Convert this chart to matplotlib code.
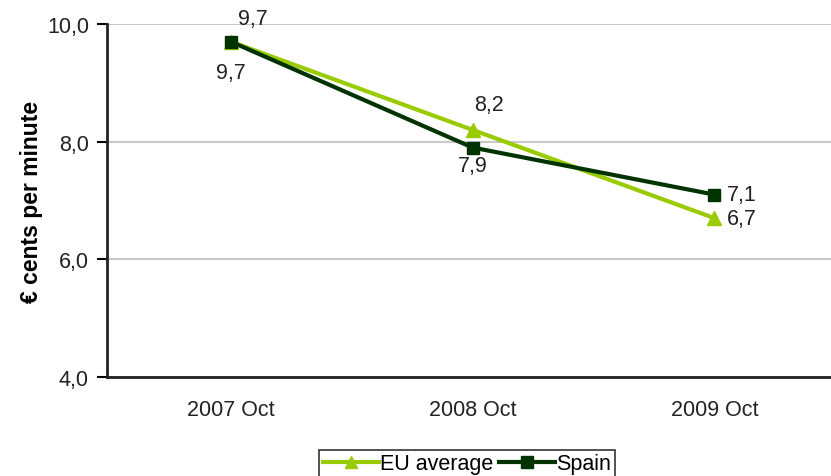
import matplotlib
matplotlib.use("Agg")
import matplotlib.pyplot as plt
from matplotlib.ticker import FuncFormatter

plt.rcParams['font.family'] = ['Liberation Sans', 'DejaVu Sans']

# Mobile termination rates, euro cents per minute
periods = ['2007 Oct', '2008 Oct', '2009 Oct']
eu_average = [9.7, 8.2, 6.7]
spain = [9.7, 7.9, 7.1]

eu_color = '#99CC00'
spain_color = '#003300'

fig = plt.figure(figsize=(8.31, 4.77), dpi=100)
# axes run a little past the right edge of the figure
ax = fig.add_axes([107 / 831, 1 - 378 / 477, 738 / 831, 353 / 477])

x = list(range(len(periods)))
ax.plot(x, eu_average, color=eu_color, lw=3, marker='^', ms=10,
        label='EU average', zorder=3)
ax.plot(x, spain, color=spain_color, lw=3, marker='s', ms=9,
        label='Spain', zorder=4)

fmt = lambda v: f'{v:.1f}'.replace('.', ',')

# data labels: (dx, dy) in points and horizontal alignment
eu_offsets = [(5.5, 16.5, 'left'), (12, 18, 'center'), (9, 0, 'left')]
sp_offsets = [(0, -22, 'center'), (0, -13, 'center'), (9, 0, 'left')]
for vals, offs in [(eu_average, eu_offsets), (spain, sp_offsets)]:
    for i, v in enumerate(vals):
        dx, dy, ha = offs[i]
        ax.annotate(fmt(v), (x[i], v), xytext=(dx, dy), textcoords='offset points',
                    ha=ha, va='center', fontsize=15.5, color='#222222')

ax.set_xlim(-0.512, 2.54)
ax.set_ylim(4, 10)
ax.set_yticks([4, 6, 8, 10])
ax.yaxis.set_major_formatter(FuncFormatter(lambda v, p: fmt(v)))
ax.set_xticks(x)
ax.set_xticklabels(periods)
ax.tick_params(axis='x', length=0, pad=16, labelsize=15.5, labelcolor='#222222')
ax.tick_params(axis='y', length=7, width=1.5, pad=6, labelsize=15.5,
               labelcolor='#222222')

ax.grid(axis='y', color='#c8c8c8', lw=1.5)
ax.set_axisbelow(True)
for side in ['top', 'right']:
    ax.spines[side].set_visible(False)
for side in ['left', 'bottom']:
    ax.spines[side].set_linewidth(2)
    ax.spines[side].set_color('#222222')

ax.set_ylabel('€ cents per minute', fontsize=16.5, fontweight='bold')
ax.yaxis.set_label_coords(-64 / 738, 0.5)

leg = fig.legend(loc='upper center', bbox_to_anchor=(467 / 831, 1 - 451 / 477),
                 ncol=2, fontsize=15.5, frameon=True, fancybox=False,
                 handlelength=2.6, handletextpad=0.05, columnspacing=0.3,
                 borderpad=0.15, borderaxespad=0, markerscale=0.9)
leg.get_frame().set_edgecolor('black')
leg.get_frame().set_linewidth(1.2)

fig.savefig('out.png', dpi=100)
